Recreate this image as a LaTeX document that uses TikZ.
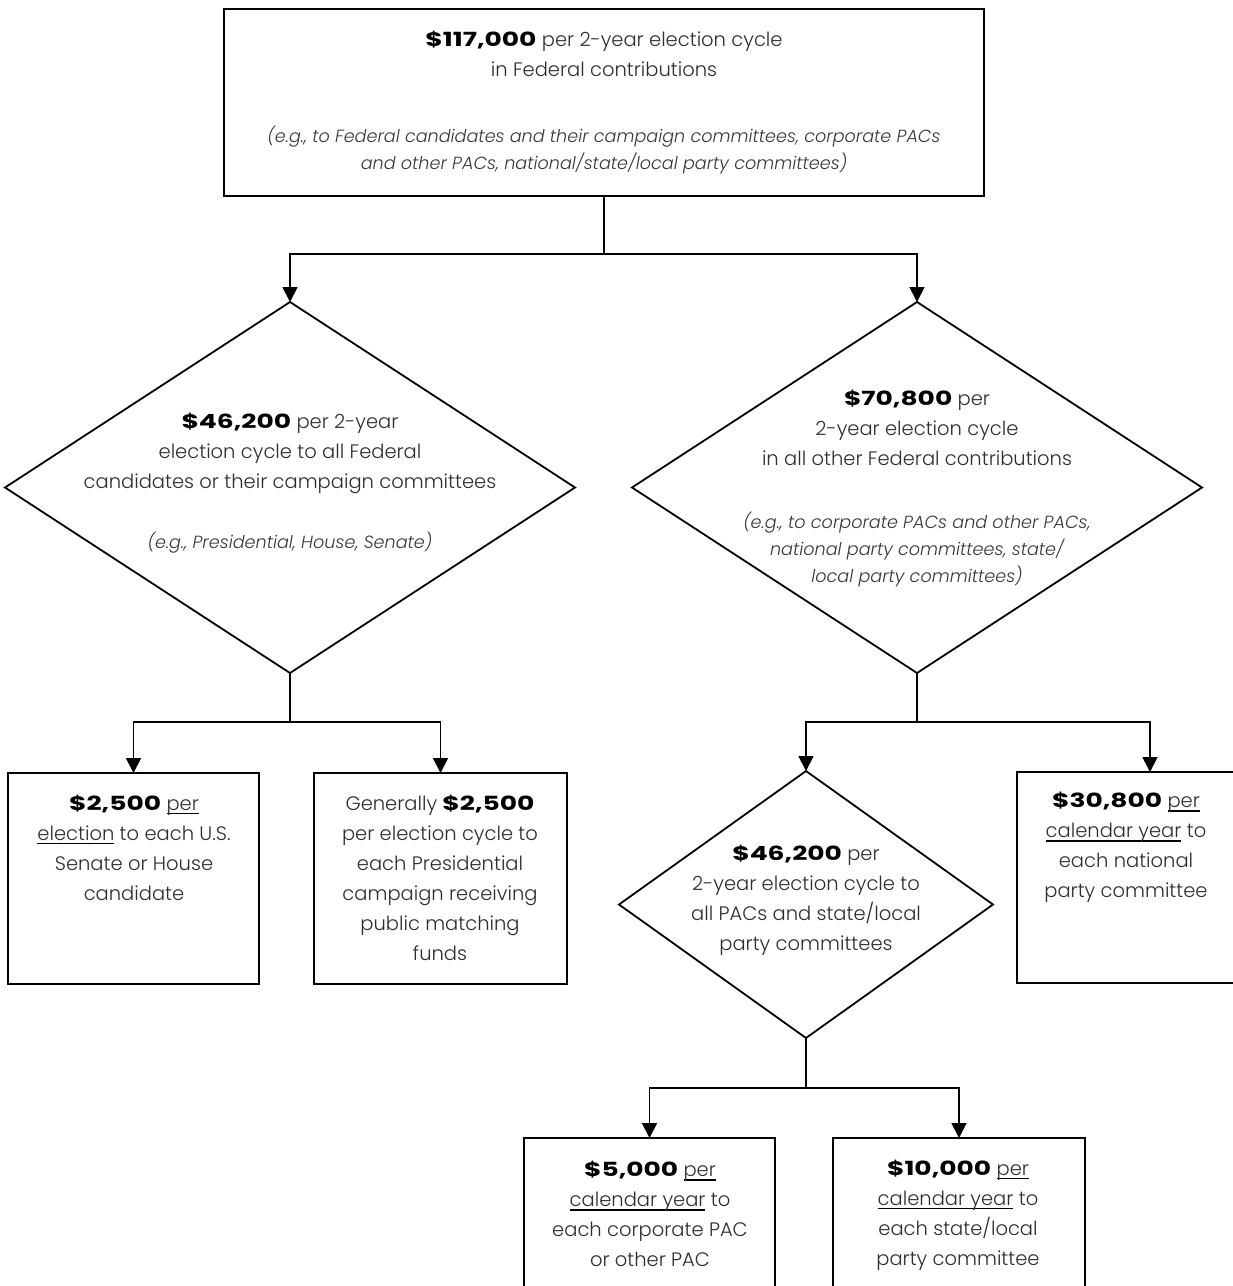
\documentclass[tikz,border=0pt]{standalone}
\usepackage{fontspec}
\setmainfont{Poppins}[UprightFont={* Light},ItalicFont={* Light Italic},BoldFont={* Bold},
  BoldFeatures={FakeStretch=1.36}]
\usetikzlibrary{shapes.geometric,arrows.meta}

\newcommand{\amt}[1]{\textbf{\color{black}#1}}
% underlined words: a rule set just below the baseline
\newcommand{\ulx}[1]{\setbox0\hbox{#1}\rlap{\color{black}\rule[-4pt]{\wd0}{1.4pt}}\box0\relax}

\begin{document}
\begin{tikzpicture}[x=1pt,y=-1pt,
  frame/.style={draw=black, line width=1.8pt, inner sep=0pt, outer sep=0pt},
  boxshape/.style={frame, rectangle},
  dia/.style={frame, diamond},
  txt/.style={align=center, inner sep=0pt, text=black!82, font=\fontsize{19.5}{30}\selectfont},
  note/.style={align=center, inner sep=0pt, text=black!78, font=\fontsize{17.6}{27}\selectfont\itshape},
  arr/.style={draw=black, line width=1.8pt, -{Triangle[width=15pt,length=15pt]}},
  link/.style={draw=black, line width=1.8pt}]

\clip (0,0) rectangle (1233,1286);
\fill[white] (0,0) rectangle (1233,1286);

% shapes
\node[boxshape, minimum width=760pt, minimum height=187pt] (top) at (604,102.5) {};
\node[dia, minimum width=570pt, minimum height=371pt] (ld) at (290,487.5) {};
\node[dia, minimum width=570pt, minimum height=371pt] (rd) at (917,487.5) {};
\node[boxshape, minimum width=251pt, minimum height=211pt] (l1) at (133.5,878.5) {};
\node[boxshape, minimum width=253pt, minimum height=211pt] (l2) at (440.5,878.5) {};
\node[boxshape, minimum width=266pt, minimum height=211pt] (rb) at (1150,877.5) {};
\node[dia, minimum width=374pt, minimum height=267pt] (md) at (806,904.5) {};
\node[boxshape, minimum width=251pt, minimum height=240pt] (b1) at (649.5,1258) {};
\node[boxshape, minimum width=252pt, minimum height=240pt] (b2) at (959,1258) {};

% branch points
\coordinate (j1) at (604,254);
\coordinate (jL) at (290,722);
\coordinate (jR) at (917,722);
\coordinate (jM) at (806,1088);

% connectors
\draw[link] (top.south) -- (j1);
\draw[arr] (j1) -| (ld.north);
\draw[arr] (j1) -| (rd.north);
\draw[link] (ld.south) -- (jL);
\draw[arr] (jL) -| (l1.north);
\draw[arr] (jL) -| (l2.north);
\draw[link] (rd.south) -- (jR);
\draw[arr] (jR) -| (md.north);
\draw[arr] (jR) -| (rb.north);
\draw[link] (md.south) -- (jM);
\draw[arr] (jM) -| (b1.north);
\draw[arr] (jM) -| (b2.north);

% texts
\node[txt] (topA) at (604,54) {\amt{\$117,000} per 2-year election cycle\\in Federal contributions};
\node[note] (topB) at (604,150) {(e.g., to Federal candidates and their campaign committees, corporate PACs\\and other PACs, national/state/local party committees)};

\node[txt] (ldA) at (290,453) {\amt{\$46,200} per 2-year\\election cycle to all Federal\\candidates or their campaign committees};
\node[note] (ldB) at (290,543) {(e.g., Presidential, House, Senate)};

\node[txt] (rdA) at (917,428) {\amt{\$70,800} per\\2-year election cycle\\in all other Federal contributions};
\node[note] (rdB) at (917,550) {(e.g., to corporate PACs and other PACs,\\national party committees, state/\\local party committees)};

\node[txt] (mdT) at (806,900.5) {\amt{\$46,200} per\\2-year election cycle to\\all PACs and state/local\\party committees};

\node[txt] (l1T) at (134,847.5) {\amt{\$2,500} \ulx{per}\\\ulx{election} to each U.S.\\Senate or House\\candidate};
\node[txt] (l2T) at (440,877.5) {Generally \amt{\$2,500}\\per election cycle to\\each Presidential\\campaign receiving\\public matching\\funds};
\node[txt] (rbT) at (1126,847.5) {\amt{\$30,800} \ulx{per}\\\ulx{calendar year} to\\each national\\party committee};
\node[txt] (b1T) at (650,1214) {\amt{\$5,000} \ulx{per}\\\ulx{calendar year} to\\each corporate PAC\\or other PAC};
\node[txt] (b2T) at (958,1215) {\amt{\$10,000} \ulx{per}\\\ulx{calendar year} to\\each state/local\\party committee};

\end{tikzpicture}
\end{document}
